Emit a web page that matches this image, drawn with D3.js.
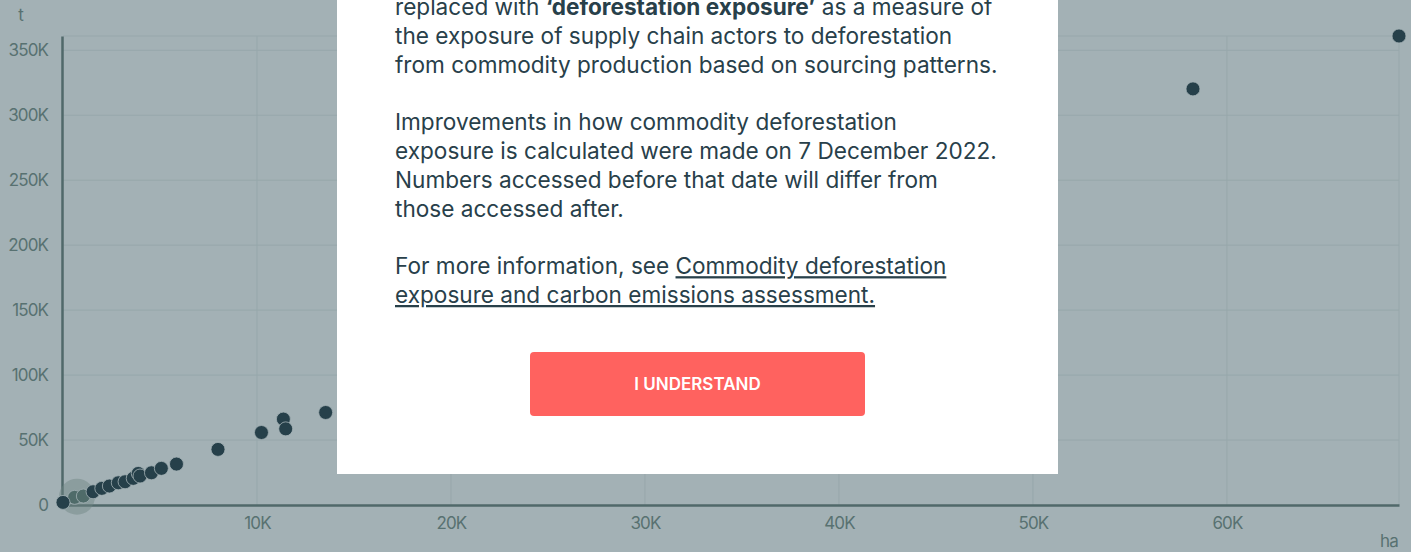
<!DOCTYPE html>
<html>
<head>
<meta charset="utf-8">
<script src="https://cdn.jsdelivr.net/npm/d3@7"></script>
<style>
  html, body { margin: 0; padding: 0; background: #a3b1b5; overflow: hidden; }
  svg { display: block; font-family: "Inter", "Noto Sans", sans-serif; }
</style>
</head>
<body>
<div id="canvas"></div>
<script>
"use strict"

/*** DATA ***/
// deforestation exposure (ha) vs emissions (t)
let haValues = [0, 600, 1050, 1550, 2000, 2390, 2850, 3200, 3620, 3880, 3970, 4560, 5070, 5850, 7990, 10230, 11360, 11480, 13540, 58250, 68870]
let tValues  = [2000, 5900, 6900, 10200, 12800, 14600, 17100, 17900, 20500, 24300, 22300, 24800, 28200, 31500, 42800, 55800, 66100, 58600, 71200, 320300, 361000]
let xTickValues = [10000, 20000, 30000, 40000, 50000, 60000]
let yTickValues = [0, 50000, 100000, 150000, 200000, 250000, 300000, 350000]
let highlighted = [1, 2]   // points under the hover halo

let modalLines = [
    [["replaced with ", "n"], ["\u2018deforestation exposure\u2019", "b"], [" as a measure of", "n"]],
    [["the exposure of supply chain actors to deforestation", "n"]],
    [["from commodity production based on sourcing patterns.", "n"]],
    [],
    [["Improvements in how commodity deforestation", "n"]],
    [["exposure is calculated were made on 7 December 2022.", "n"]],
    [["Numbers accessed before that date will differ from", "n"]],
    [["those accessed after.", "n"]],
    [],
    [["For more information, see ", "n"], ["Commodity deforestation", "u"]],
    [["exposure and carbon emissions assessment.", "u"]]
]
let buttonLabel = "I UNDERSTAND"

/*** CANVAS SETUP ***/
let svgWidth = 1411
let svgHeight = 552
let margin = { top: 36, right: 12, bottom: 47, left: 63 }

let svg = d3.select("#canvas")
    .append("svg")
    .attr("width", svgWidth)
    .attr("height", svgHeight)

svg.append("rect")
    .attr("width", svgWidth)
    .attr("height", svgHeight)
    .attr("fill", "#a3b1b5")

let data = haValues.map((h, i) => ({ ha: h, t: tValues[i], hi: highlighted.includes(i) }))

/*** SCALES ***/
let xScale = d3.scaleLinear()
    .domain([0, d3.max(haValues)])
    .range([margin.left, svgWidth - margin.right])

let yScale = d3.scaleLinear()
    .domain([0, d3.max(tValues)])
    .range([svgHeight - margin.bottom, margin.top])

let fmtK = v => v === 0 ? "0" : (v / 1000) + "K"

/*** GRID ***/
let grid = svg.append("g").attr("stroke", "#97a7ab").attr("stroke-width", 1)

grid.selectAll("line.gx")
    .data(xTickValues.concat([d3.max(haValues)]))
    .join("line")
    .attr("class", "gx")
    .attr("x1", d => xScale(d)).attr("x2", d => xScale(d))
    .attr("y1", yScale.range()[1]).attr("y2", yScale.range()[0])

grid.selectAll("line.gy")
    .data(yTickValues.slice(1).concat([d3.max(tValues)]))
    .join("line")
    .attr("class", "gy")
    .attr("x1", xScale.range()[0]).attr("x2", xScale.range()[1])
    .attr("y1", d => yScale(d)).attr("y2", d => yScale(d))

/*** AXES ***/
let xAxis = d3.axisBottom(xScale).tickValues(xTickValues).tickFormat(fmtK).tickSize(0).tickPadding(12)
let gx = svg.append("g")
    .attr("transform", `translate(0, ${yScale(0)})`)
    .call(xAxis)
gx.select(".domain").attr("stroke", "#50696a").attr("stroke-width", 2.5)

let yAxis = d3.axisLeft(yScale).tickValues(yTickValues).tickFormat(fmtK).tickSize(0).tickPadding(14)
let gy = svg.append("g")
    .attr("transform", `translate(${xScale(0) - 1}, 0)`)
    .call(yAxis)
gy.select(".domain").attr("stroke", "#50696a").attr("stroke-width", 2.5)

svg.selectAll(".tick text")
    .attr("fill", "#587171")
    .attr("font-size", "17px")
    .attr("font-family", "Inter, sans-serif")
    .attr("letter-spacing", "-0.9px")

svg.append("text")
    .attr("x", 21).attr("y", 21)
    .attr("text-anchor", "middle")
    .attr("fill", "#587171")
    .attr("font-size", "17px")
    .text("t")

svg.append("text")
    .attr("x", 1398).attr("y", 547)
    .attr("text-anchor", "end")
    .attr("fill", "#587171")
    .attr("font-size", "17px")
    .attr("letter-spacing", "-0.8px")
    .text("ha")

/*** POINTS ***/
// hover halo behind the highlighted points
let hiData = data.filter(d => d.hi)
svg.append("circle")
    .attr("cx", xScale(d3.mean(hiData, d => d.ha)) - 2)
    .attr("cy", yScale(d3.mean(hiData, d => d.t)))
    .attr("r", 18)
    .attr("fill", "#6e8583")
    .attr("opacity", 0.45)

let dots = svg.append("g").selectAll("circle")
    .data(data)
    .join("circle")
    .attr("cx", d => xScale(d.ha))
    .attr("cy", d => yScale(d.t))
    .attr("r", 7)
    .attr("fill", d => d.hi ? "#4f6b69" : "#26404a")
    .attr("stroke", "#a3b1b5")
    .attr("stroke-width", 0.8)

dots.filter((d, i) => i === 0).raise()

/*** MODAL ***/
let modal = svg.append("g")

modal.append("rect")
    .attr("x", 337).attr("y", -20)
    .attr("width", 721).attr("height", 494)
    .attr("fill", "#ffffff")

let textX = 395
let firstBaseline = 15
let lineHeight = 28.8

modalLines.forEach((line, i) => {
    if (!line.length) return
    let t = modal.append("text")
        .attr("x", textX)
        .attr("y", firstBaseline + i * lineHeight)
        .attr("fill", "#28404a")
        .attr("font-size", "22.6px")
        .attr("font-family", "Inter, sans-serif")
    line.forEach(([str, kind]) => {
        let s = t.append("tspan").text(str)
        if (kind === "b") s.attr("font-weight", 700)
        if (kind === "u") s.attr("text-decoration", "underline")
    })
})

modal.append("rect")
    .attr("x", 530).attr("y", 352)
    .attr("width", 335).attr("height", 64)
    .attr("rx", 4)
    .attr("fill", "#ff625f")

modal.append("text")
    .attr("x", 697.5).attr("y", 390)
    .attr("text-anchor", "middle")
    .attr("fill", "#ffffff")
    .attr("font-size", "17px")
    .attr("font-weight", 600)
    .attr("font-family", "Inter, sans-serif")
    .text(buttonLabel)
</script>
</body>
</html>
